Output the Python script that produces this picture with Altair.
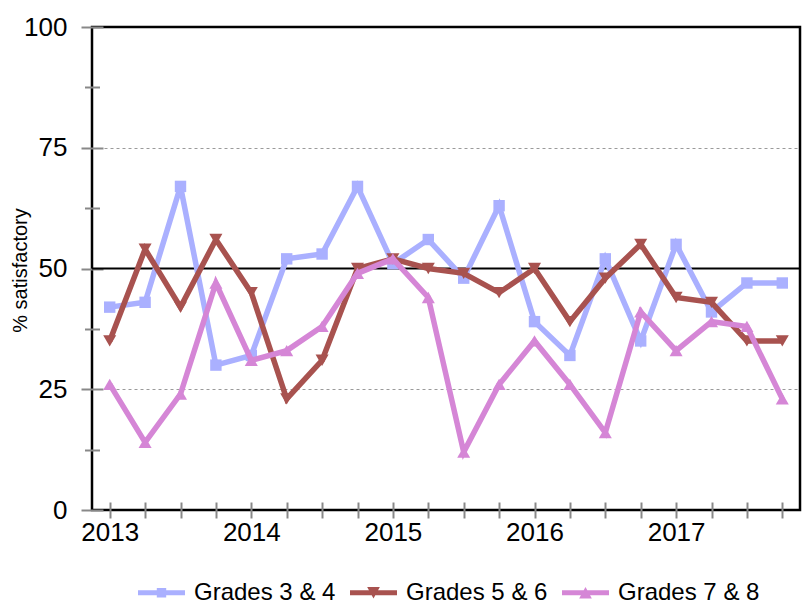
import json
import altair as alt
import pandas as pd

quarters = list(range(20))
year_labels = ["2013", "2014", "2015", "2016", "2017"]
series_names = ["Grades 3 & 4", "Grades 5 & 6", "Grades 7 & 8"]
grades_3_4 = [42, 43, 67, 30, 32, 52, 53, 67, 51, 56, 48, 63, 39, 32, 52, 35, 55, 41, 47, 47]
grades_5_6 = [35, 54, 42, 56, 45, 23, 31, 50, 52, 50, 49, 45, 50, 39, 48, 55, 44, 43, 35, 35]
grades_7_8 = [26, 14, 24, 47, 31, 33, 38, 49, 52, 44, 12, 26, 35, 26, 16, 41, 33, 39, 38, 23]
colors = ["#aab0ff", "#a8524f", "#d586d6"]
marker_shapes = ["square", "triangle-down", "triangle-up"]
marker_sizes = [130, 170, 170]
major_y = [0, 25, 50, 75, 100]
minor_y = [12.5, 37.5, 62.5, 87.5]
grid_y = [25, 75]
reference_value = [50]

legend_paths = [
    "M-1,-0.11L1,-0.11L1,0.11L-1,0.11Z M-0.2,-0.2L0.2,-0.2L0.2,0.2L-0.2,0.2Z",
    "M-1,-0.11L1,-0.11L1,0.11L-1,0.11Z M-0.27,-0.24L0.27,-0.24L0,0.24Z",
    "M-1,-0.11L1,-0.11L1,0.11L-1,0.11Z M-0.27,0.24L0,-0.24L0.27,0.24Z",
]

rows = []
for name, vals in zip(series_names, [grades_3_4, grades_5_6, grades_7_8]):
    for q, v in zip(quarters, vals):
        rows.append({"quarter": q, "value": v, "series": name})
df = pd.DataFrame(rows)

FONT = "Liberation Sans"
xscale = alt.Scale(domain=[-0.5, 19.5], nice=False, zero=False)
yscale = alt.Scale(domain=[0, 100], nice=False)

label_expr = "datum.value % 4 == 0 ? " + json.dumps(year_labels) + "[floor(datum.value / 4)] : ''"
x_axis = alt.Axis(
    values=quarters, orient="bottom", offset=-8, tickSize=16, tickColor="#888888",
    tickWidth=2, domain=False, grid=False, labelExpr=label_expr, labelFont=FONT,
    labelFontSize=26, labelColor="black", labelPadding=1, labelOverlap=False,
    labelFlush=False, title=None,
)
X = alt.X("quarter:Q", scale=xscale, axis=x_axis)

y_grid = alt.Axis(
    values=grid_y, orient="left", offset=0, ticks=False, labels=False, domain=False,
    grid=True, gridColor="#9a9a9a", gridDash=[3, 3], gridWidth=1, title=None,
)
y_major = alt.Axis(
    values=major_y, orient="left", offset=-11, tickSize=22, tickColor="#888888",
    tickWidth=2, domain=False, grid=False, labelFont=FONT, labelFontSize=26,
    labelColor="black", labelPadding=14, title="% satisfactory", titleFont=FONT,
    titleFontSize=20, titleFontWeight="normal", titleColor="black", titleAngle=270,
    titleX=-83, titleY=243, titleAlign="center", titleBaseline="middle",
)
y_minor = alt.Axis(
    values=minor_y, orient="left", offset=-7.5, tickSize=15, tickColor="#888888",
    tickWidth=2, domain=False, grid=False, labels=False, title=None,
)

base = alt.Chart(df)

def axis_layer(ax):
    return base.transform_filter("false").mark_point().encode(
        x=X, y=alt.Y("value:Q", scale=yscale, axis=ax)
    )

rule = alt.Chart(pd.DataFrame({"ref": reference_value})).mark_rule(
    color="black", strokeWidth=2
).encode(y=alt.Y("ref:Q", scale=yscale, axis=None))

layers = [axis_layer(y_grid), axis_layer(y_major), axis_layer(y_minor), rule]
for name, col, shp, sz in zip(series_names, colors, marker_shapes, marker_sizes):
    sub = base.transform_filter(alt.datum.series == name)
    layers.append(
        sub.mark_line(color=col, strokeWidth=5.5).encode(
            x=X, y=alt.Y("value:Q", scale=yscale, axis=None)
        )
    )
    layers.append(
        sub.mark_point(shape=shp, filled=True, color=col, size=sz, opacity=1).encode(
            x=X, y=alt.Y("value:Q", scale=yscale, axis=None)
        )
    )

legend = alt.Legend(
    title=None, orient="none", direction="horizontal", legendX=46, legendY=542,
    symbolSize=2209, symbolStrokeWidth=0, labelFont=FONT, labelFontSize=24,
    labelColor="black", labelOffset=9, columnPadding=14, labelLimit=400, padding=0,
)
legend_layer = base.transform_filter("false").mark_point(filled=True, opacity=1).encode(
    x=X,
    y=alt.Y("value:Q", scale=yscale, axis=None),
    color=alt.Color("series:N", scale=alt.Scale(domain=series_names, range=colors), legend=legend),
    shape=alt.Shape("series:N", scale=alt.Scale(domain=series_names, range=legend_paths), legend=legend),
)
layers.append(legend_layer)

chart = (
    alt.layer(*layers)
    .resolve_scale(y="independent")
    .resolve_axis(y="independent")
    .properties(
        width=708, height=483,
        autosize=alt.AutoSizeParams(type="none"),
        padding={"left": 84, "top": 19, "right": 2, "bottom": 97},
        background="white",
    )
    .configure_view(stroke="black", strokeWidth=2.5)
)

chart.save("out.html", embed_options={"renderer": "svg", "actions": False})
